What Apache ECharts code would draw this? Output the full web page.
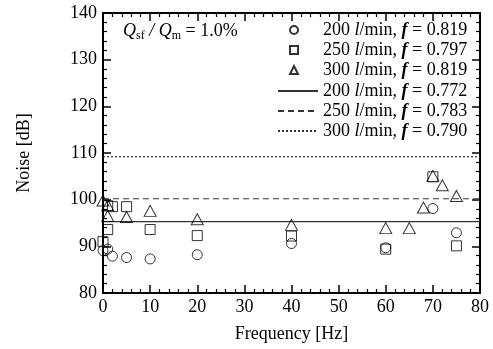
<!DOCTYPE html>
<html>
<head>
<meta charset="utf-8">
<script src="https://cdn.jsdelivr.net/npm/echarts@6/dist/echarts.min.js"></script>
<style>
  html, body { margin: 0; padding: 0; background: #fff; }
  #chart { width: 493px; height: 349px; }
</style>
</head>
<body>
<div id="chart"></div>
<script>
// measured points, [frequency Hz, noise dB]
var circle200 = [[0, 89.1], [1, 89.4], [2, 87.9], [5, 87.6], [10, 87.3], [20, 88.2], [40, 90.6], [60, 89.7], [70, 98.1], [75, 92.9]];
var square250 = [[0, 91.0], [1, 93.6], [1, 98.7], [2, 98.5], [5, 98.5], [10, 93.6], [20, 92.3], [40, 92.2], [60, 89.4], [70, 104.9], [75, 90.1]];
var triangle300 = [[0, 99.8], [1, 98.8], [1, 96.5], [5, 96.3], [10, 97.6], [20, 95.8], [40, 94.6], [60, 93.9], [65, 93.9], [68, 98.3], [70, 105.1], [72, 103.1], [75, 100.8]];

// fitted levels
var level200 = 95.3;
var level250 = 100.2;
var level300 = 109.2;

var pointNames = [
  '200 l/min, f = 0.819',
  '250 l/min, f = 0.797',
  '300 l/min, f = 0.819'
];
var lineNames = [
  '200 l/min, f = 0.772',
  '250 l/min, f = 0.783',
  '300 l/min, f = 0.790'
];

var font = 'Liberation Serif';
var fs = 18;

function flat(v) {
  return [[0, v], [80, v]];
}

function legendLabel(name) {
  var p = name.split(' ');
  return '{n|' + p[0] + ' }{i|l}{n|/min, }{b|f}{n| = ' + p[4] + '}';
}

var richLegend = {
  n: { fontFamily: font, fontSize: fs, color: '#000' },
  i: { fontFamily: font, fontSize: fs, fontStyle: 'italic', color: '#000' },
  b: { fontFamily: font, fontSize: fs, fontStyle: 'italic', fontWeight: 'bold', color: '#000' },
  sp: { width: 20 }
};

var myChart = echarts.init(document.getElementById('chart'));

var axisCommon = {
  min: 0,
  max: 80,
  interval: 10,
  axisLine: { show: true, onZero: false, lineStyle: { color: '#000', width: 2 } },
  axisTick: { show: true, inside: true, length: 8, lineStyle: { color: '#000', width: 1.5 } },
  minorTick: { show: true, splitNumber: 5, length: 4, lineStyle: { color: '#000', width: 1.2 } },
  splitLine: { show: false }
};

var scatterStyle = { color: 'rgba(0,0,0,0)', borderColor: '#000', borderWidth: 1 };

var option = {
  animation: false,
  textStyle: { fontFamily: font, color: '#000' },
  grid: { left: 103, right: 13, top: 13, bottom: 56 },
  xAxis: [
    Object.assign({}, axisCommon, {
      type: 'value',
      position: 'bottom',
      name: 'Frequency [Hz]',
      nameLocation: 'middle',
      nameGap: 32,
      nameTextStyle: { fontFamily: font, fontSize: fs, color: '#000' },
      axisLabel: { fontFamily: font, fontSize: fs, color: '#000', margin: 5 }
    }),
    Object.assign({}, axisCommon, {
      type: 'value',
      position: 'top',
      axisLabel: { show: false }
    })
  ],
  yAxis: [
    Object.assign({}, axisCommon, {
      type: 'value',
      min: 80,
      max: 140,
      position: 'left',
      name: 'Noise [dB]',
      nameLocation: 'middle',
      nameGap: 70,
      nameTextStyle: { fontFamily: font, fontSize: fs, color: '#000' },
      axisLabel: { fontFamily: font, fontSize: fs, color: '#000', margin: 6 }
    }),
    Object.assign({}, axisCommon, {
      type: 'value',
      min: 80,
      max: 140,
      position: 'right',
      axisLabel: { show: false }
    })
  ],
  legend: [
    {
      orient: 'vertical',
      left: 289,
      top: 21,
      padding: 0,
      itemWidth: 8,
      itemHeight: 8,
      itemGap: 2,
      data: pointNames,
      formatter: function (name) { return '{sp|}' + legendLabel(name); },
      textStyle: { fontFamily: font, fontSize: fs, color: '#000', rich: richLegend }
    },
    {
      orient: 'vertical',
      left: 277,
      top: 82,
      padding: 0,
      itemWidth: 40,
      itemHeight: 8,
      itemGap: 2,
      data: lineNames.map(function (n) {
        return { name: n, itemStyle: { opacity: 0 } };
      }),
      formatter: legendLabel,
      textStyle: { fontFamily: font, fontSize: fs, color: '#000', rich: richLegend }
    }
  ],
  graphic: [
    {
      type: 'text',
      left: 123,
      top: 22,
      style: {
        text: '{q|Q}{s|sf}{q| / }{q|Q}{s|m}{n| = 1.0%}',
        rich: {
          q: { fontFamily: font, fontSize: fs, fontStyle: 'italic', fill: '#000' },
          s: { fontFamily: font, fontSize: 12, fill: '#000', padding: [9, 0, 0, 0] },
          n: { fontFamily: font, fontSize: fs, fill: '#000' }
        }
      }
    }
  ],
  series: [
    {
      name: pointNames[0], type: 'scatter', symbol: 'circle', symbolSize: 10,
      itemStyle: scatterStyle, data: circle200, z: 3
    },
    {
      name: pointNames[1], type: 'scatter', symbol: 'rect', symbolSize: 10,
      itemStyle: scatterStyle, data: square250, z: 3
    },
    {
      name: pointNames[2], type: 'scatter', symbol: 'triangle', symbolSize: [12, 11],
      itemStyle: scatterStyle, data: triangle300, z: 3
    },
    {
      name: lineNames[0], type: 'line', symbol: 'none', data: flat(level200),
      lineStyle: { color: '#333', width: 1.2, type: 'solid' }, itemStyle: { color: '#333' }, z: 2
    },
    {
      name: lineNames[1], type: 'line', symbol: 'none', data: flat(level250),
      lineStyle: { color: '#333', width: 1.2, type: [6, 4] }, itemStyle: { color: '#333' }, z: 2
    },
    {
      name: lineNames[2], type: 'line', symbol: 'none', data: flat(level300),
      lineStyle: { color: '#333', width: 1.2, type: [2, 2] }, itemStyle: { color: '#333' }, z: 2
    }
  ]
};

myChart.setOption(option, true);
</script>
</body>
</html>
